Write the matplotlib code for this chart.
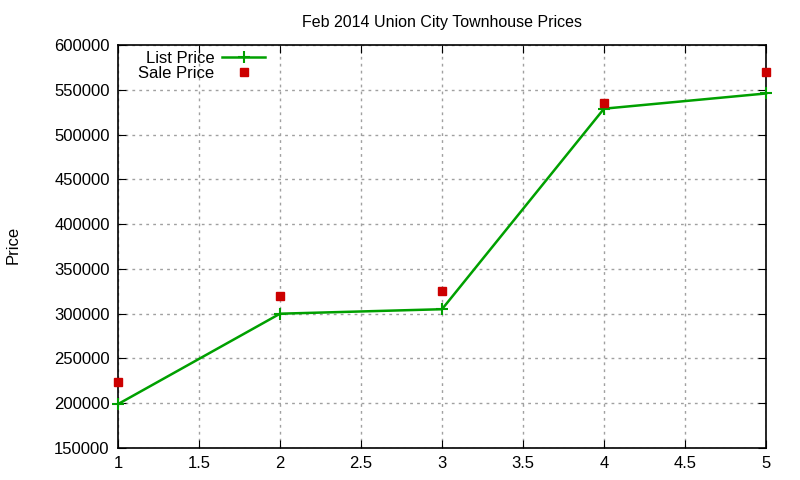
import matplotlib
matplotlib.use('Agg')
import matplotlib.pyplot as plt

plt.rcParams['font.family'] = ['Liberation Sans', 'DejaVu Sans']

# Data
x_vals = [1, 2, 3, 4, 5]
list_price = [199000, 300000, 305000, 529000, 546000]
sale_price = [224000, 320000, 325000, 535000, 570000]

fig = plt.figure(figsize=(8, 4.8), dpi=100)
ax = fig.add_axes([0.1475, 0.0667, 0.81, 0.8393])

ax.plot(x_vals, list_price, color='#00a000', lw=1.8, marker='+', ms=9, mew=1.5,
        label='List Price', clip_on=False, zorder=3)
ax.plot(x_vals, sale_price, ls='none', marker='s', ms=6, color='#cc0000',
        label='Sale Price', clip_on=False, zorder=4)

ax.set_xlim(1, 5)
ax.set_ylim(150000, 600000)
ax.set_xticks([1, 1.5, 2, 2.5, 3, 3.5, 4, 4.5, 5])
ax.set_xticklabels(['1', '1.5', '2', '2.5', '3', '3.5', '4', '4.5', '5'])
ax.set_yticks(range(150000, 600001, 50000))

ax.grid(True, color='#a0a0a0', ls=(0, (2, 3)), lw=1)
ax.tick_params(direction='in', top=True, right=True, labelsize=12, length=6, pad=6)
for s in ax.spines.values():
    s.set_linewidth(1.2)

ax.set_title('Feb 2014 Union City Townhouse Prices', fontsize=11.5, pad=13)
fig.text(0.016, 0.49, 'Price', rotation=90, fontsize=12, ha='center', va='center')

ax.legend(loc='upper left', markerfirst=False, frameon=False, fontsize=12,
          bbox_to_anchor=(0.016, 1.01), handlelength=2.6, handletextpad=0.45,
          labelspacing=0.0, borderaxespad=0.2)

fig.savefig('out.png', dpi=100)
